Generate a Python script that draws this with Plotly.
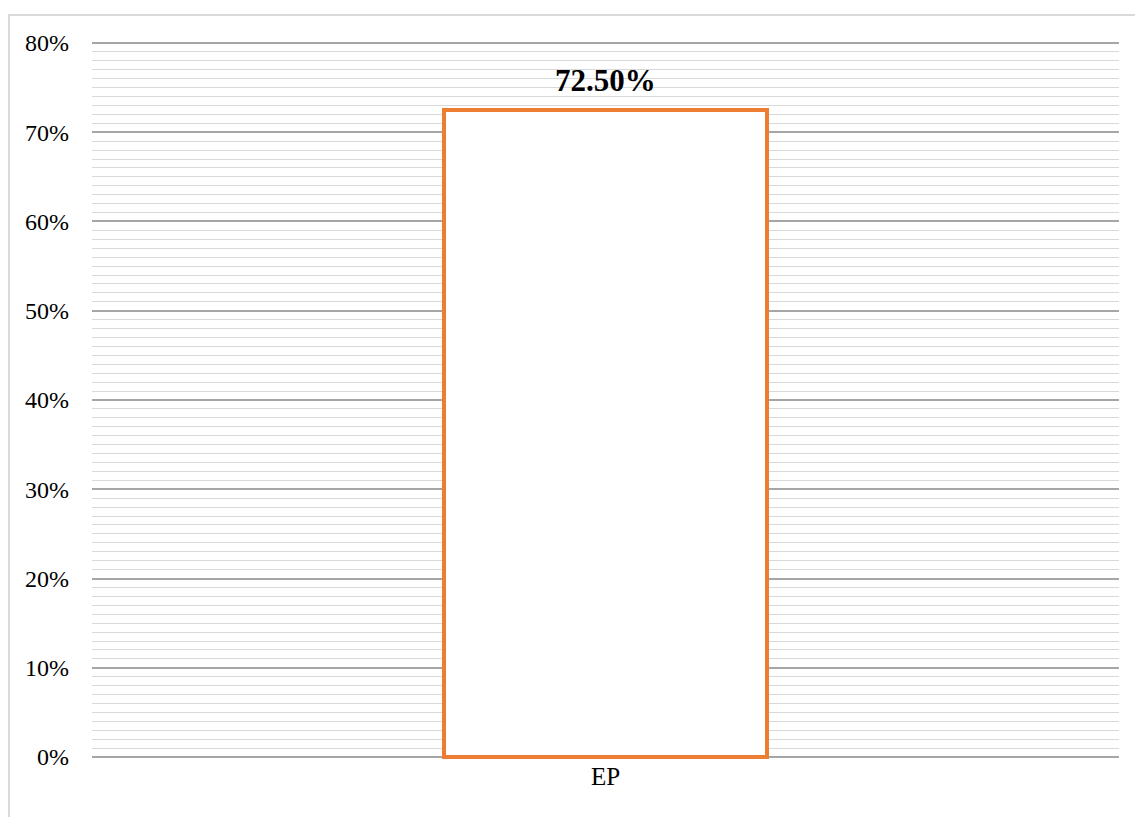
import plotly.graph_objects as go

categories = ["EP"]
values = [0.725]
labels = ["72.50%"]
y_ticks = [0, 0.1, 0.2, 0.3, 0.4, 0.5, 0.6, 0.7, 0.8]

fig = go.Figure(
    go.Bar(
        x=categories,
        y=values,
        width=0.3145,
        marker=dict(color="white", line=dict(color="#ED7D31", width=4)),
        cliponaxis=False,
    )
)

# value label above the bar
for cat, val, lab in zip(categories, values, labels):
    fig.add_annotation(
        x=cat,
        y=val,
        text=lab,
        showarrow=False,
        yanchor="bottom",
        yshift=10,
        font=dict(family="Liberation Serif", size=31, color="black", weight="bold"),
    )

fig.update_layout(
    width=1135,
    height=817,
    margin=dict(l=92, r=16, t=41, b=58),
    paper_bgcolor="white",
    plot_bgcolor="white",
    showlegend=False,
    font=dict(family="Liberation Serif", size=24, color="black"),
    xaxis=dict(
        range=[-0.5, 0.5],
        showgrid=False,
        showline=False,
        zeroline=False,
        tickfont=dict(size=25),
        ticks="",
        ticklabelstandoff=0,
    ),
    yaxis=dict(
        range=[-0.0022, 0.8022],
        tickvals=y_ticks,
        tickformat=".0%",
        showgrid=True,
        gridcolor="#A6A6A6",
        gridwidth=2,
        zeroline=True,
        zerolinecolor="#A6A6A6",
        zerolinewidth=2,
        showline=False,
        ticks="",
        ticklabelstandoff=22,
        tickfont=dict(size=24),
        minor=dict(dtick=0.01, showgrid=True, gridcolor="#D9D9D9", gridwidth=1),
    ),
    shapes=[
        dict(
            type="rect",
            xref="paper",
            yref="paper",
            x0=(9 - 92) / 1027,
            x1=1.05,
            y0=-0.12,
            y1=(758 - 14) / 718,
            line=dict(color="#D9D9D9", width=2),
            fillcolor="rgba(0,0,0,0)",
            layer="below",
        )
    ],
)

fig.write_html("out.html")
